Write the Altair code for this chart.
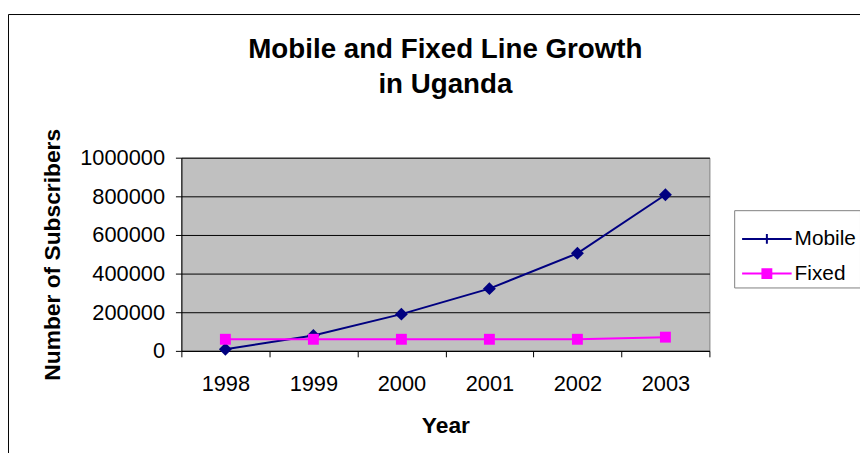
import altair as alt
import pandas as pd

# ---- data ----
years = [1998, 1999, 2000, 2001, 2002, 2003]
mobile = [8000, 80000, 190000, 322000, 505000, 808000]
fixed = [60000, 60000, 60000, 60000, 60000, 71000]
series_names = ["Mobile", "Fixed"]
series_colors = ["#000080", "#FF00FF"]
y_ticks = [0, 200000, 400000, 600000, 800000, 1000000]
x_tick_edges = [1997.5, 1998.5, 1999.5, 2000.5, 2001.5, 2002.5, 2003.5]

rows = []
for yr, v in zip(years, mobile):
    rows.append({"Year": yr, "Series": "Mobile", "Subscribers": v})
for yr, v in zip(years, fixed):
    rows.append({"Year": yr, "Series": "Fixed", "Subscribers": v})
df = pd.DataFrame(rows)

FONT = "Liberation Sans"
W, H = 533, 195
NAVY, MAGENTA = series_colors

x_enc = alt.X(
    "Year:Q",
    scale=alt.Scale(domain=[1997.5, 2003.5], nice=False, zero=False),
    axis=alt.Axis(
        values=x_tick_edges,
        labelExpr="datum.value < 2003 ? format(datum.value + 0.5, 'd') : ''",
        labelOffset=W / 12,
        labelFlush=False,
        labelOverlap=False,
        grid=False,
        title="Year",
        tickSize=6,
        labelPadding=17,
        titlePadding=20,
    ),
)
y_enc = alt.Y(
    "Subscribers:Q",
    scale=alt.Scale(domain=[0, 1000000], nice=False),
    axis=alt.Axis(
        values=y_ticks,
        format="d",
        title="Number of Subscribers",
        grid=True,
        tickSize=6,
        labelPadding=11,
        titlePadding=15,
    ),
)

base = alt.Chart(df).encode(x=x_enc, y=y_enc)

mobile_line = base.transform_filter("datum.Series == 'Mobile'").mark_line(
    color=NAVY, strokeWidth=2
)
mobile_pts = base.transform_filter("datum.Series == 'Mobile'").mark_point(
    filled=True, shape="diamond", size=170, color=NAVY, opacity=1
)
fixed_line = base.transform_filter("datum.Series == 'Fixed'").mark_line(
    color=MAGENTA, strokeWidth=2
)
fixed_pts = base.transform_filter("datum.Series == 'Fixed'").mark_point(
    filled=True, shape="square", size=121, color=MAGENTA, opacity=1
)

# legend glyphs: line with a tick (Mobile) and line with a square (Fixed)
mobile_sym = "M-0.84,-0.04H1.16V0.04H-0.84Z M0.12,-0.2H0.2V0.2H0.12Z"
fixed_sym = "M-0.84,-0.04H1.16V0.04H-0.84Z M-0.06,-0.22H0.38V0.22H-0.06Z"

leg = alt.Legend(
    title=None,
    titlePadding=0,
    orient="none",
    legendX=558,
    legendY=53,
    padding=4,
    strokeColor="#808080",
    fillColor="white",
    labelFont=FONT,
    labelFontSize=21,
    labelColor="black",
    labelExpr="datum.label + '\u00a0\u00a0\u00a0\u00a0'",
    symbolSize=2500,
    symbolStrokeWidth=0,
    symbolOpacity=1,
    labelOffset=7,
    rowPadding=0,
)
legend_layer = (
    alt.Chart(df)
    .transform_filter("false")
    .mark_point(filled=True, opacity=1, size=2500)
    .encode(
        color=alt.Color("Series:N", scale=alt.Scale(domain=series_names, range=series_colors), legend=leg),
        shape=alt.Shape("Series:N", scale=alt.Scale(domain=series_names, range=[mobile_sym, fixed_sym]), legend=leg),
    )
)

# thin outer frame of the chart (decoration only)
frame = alt.Chart(alt.Data(values=[{"k": 1}])).mark_rect(
    fill="white", fillOpacity=0, stroke="black", strokeWidth=1
).encode(
    x=alt.value(-174.5), y=alt.value(-144.5), x2=alt.value(720), y2=alt.value(420)
)

chart = (
    alt.layer(frame, mobile_line, fixed_line, mobile_pts, fixed_pts, legend_layer)
    .properties(
        width=W,
        height=H,
        background="white",
        view=alt.ViewBackground(fill="#C0C0C0", stroke="#808080", strokeWidth=1),
        title=alt.TitleParams(
            text=["Mobile and Fixed Line Growth", "in Uganda"],
            font=FONT,
            fontSize=28,
            fontWeight="bold",
            lineHeight=36,
            anchor="middle",
            frame="group",
            offset=-86,
            color="black",
        ),
        autosize=alt.AutoSizeParams(type="none"),
        padding={"left": 175, "top": 149, "right": 152, "bottom": 101},
    )
    .configure_axis(
        domainColor="black",
        tickColor="black",
        gridColor="black",
        gridOpacity=1,
        labelColor="black",
        titleColor="black",
        labelFont=FONT,
        titleFont=FONT,
        labelFontSize=22,
        titleFontSize=23,
        titleFontWeight="bold",
    )
)

chart.save("out.html", embed_options={"renderer": "svg", "actions": False})
